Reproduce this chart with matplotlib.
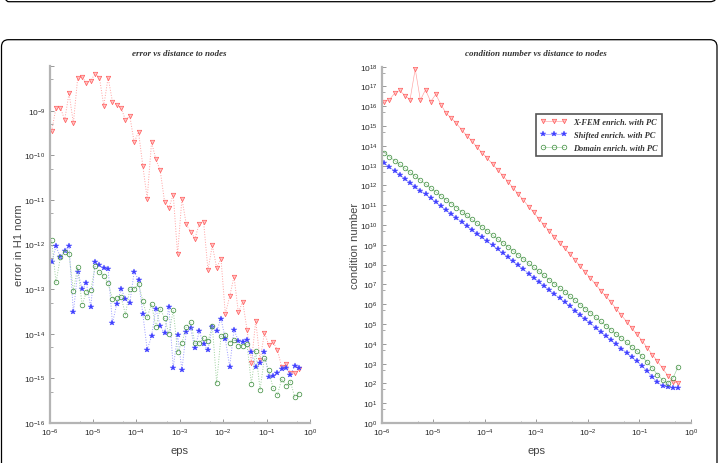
import numpy as np
import matplotlib.pyplot as plt
from matplotlib.patches import FancyBboxPatch
from matplotlib.ticker import FixedLocator, NullFormatter

plt.rcParams['font.family'] = 'Liberation Sans'
plt.rcParams['mathtext.fontset'] = 'custom'
plt.rcParams['mathtext.rm'] = 'Liberation Sans'
plt.rcParams['mathtext.default'] = 'regular'

# sample positions (log10 of eps)
eps_exp = [-5.95, -5.85, -5.75, -5.65, -5.55, -5.45, -5.35, -5.25, -5.15, -5.05,
           -4.95, -4.85, -4.75, -4.65, -4.55, -4.45, -4.35, -4.25, -4.15, -4.05,
           -3.95, -3.85, -3.75, -3.65, -3.55, -3.45, -3.35, -3.25, -3.15, -3.05,
           -2.95, -2.85, -2.75, -2.65, -2.55, -2.45, -2.35, -2.25, -2.15, -2.05,
           -1.95, -1.85, -1.75, -1.65, -1.55, -1.45, -1.35, -1.25, -1.15, -1.05,
           -0.95, -0.85, -0.75, -0.65, -0.55, -0.45, -0.35, -0.25]

# log10 of error in H1 norm
err_xfem = [-9.46, -8.93, -8.93, -9.21, -8.61, -9.28, -8.26, -8.25, -8.38, -8.33,
            -8.17, -8.26, -8.89, -8.26, -8.80, -8.87, -8.94, -9.21, -9.12, -9.71,
            -9.48, -10.24, -10.97, -9.71, -10.09, -10.34, -11.04, -11.18, -10.88, -12.22,
            -10.97, -11.55, -11.71, -11.87, -11.53, -11.50, -12.57, -12.02, -12.52, -12.32,
            -13.56, -13.16, -12.72, -13.52, -13.28, -13.91, -14.65, -13.71, -14.59, -13.98,
            -14.25, -14.18, -14.37, -14.75, -14.68, -14.89, -14.89, -14.80]
err_shift = [-12.40, -12.04, -12.28, -12.14, -12.04, -13.52, -12.61, -13.00, -12.87, -13.39,
             -12.40, -12.47, -12.52, -12.55, -13.76, -13.33, -13.00, -13.22, -13.31, -12.61,
             -12.79, -13.56, -14.36, -14.06, -13.44, -13.83, -13.99, -13.39, -14.76, -14.03,
             -14.81, -13.95, -13.88, -14.33, -13.94, -14.24, -14.36, -13.85, -13.94, -13.66,
             -14.12, -14.74, -13.91, -14.16, -14.18, -14.13, -14.42, -14.75, -14.66, -14.42,
             -14.98, -14.94, -14.88, -14.79, -14.77, -14.92, -14.72, -14.77]
err_domain = [-11.91, -12.85, -12.29, -12.16, -12.22, -13.04, -12.50, -13.35, -13.06, -13.03,
              -12.49, -12.61, -12.70, -12.87, -13.22, -13.20, -13.18, -13.57, -13.00, -13.00,
              -12.88, -13.27, -13.63, -13.33, -13.85, -13.44, -13.65, -14.01, -13.47, -14.40,
              -14.21, -13.84, -13.74, -14.21, -14.21, -14.10, -14.17, -13.82, -15.10, -14.06,
              -14.02, -14.21, -14.13, -14.27, -14.27, -14.24, -15.12, -14.39, -15.25, -14.54,
              -14.82, -15.22, -15.37, -15.01, -15.17, -15.08, -15.42, -15.34]

# log10 of condition number
cond_xfem = [16.23, 16.33, 16.65, 16.80, 16.53, 16.33, 17.88, 16.31, 16.83, 16.23,
             16.60, 16.08, 15.64, 15.40, 15.13, 14.81, 14.51, 14.24, 13.92, 13.64,
             13.37, 13.08, 12.78, 12.49, 12.19, 11.87, 11.55, 11.26, 10.92, 10.64,
             10.30, 10.00, 9.70, 9.41, 9.09, 8.82, 8.54, 8.23, 7.91, 7.61,
             7.31, 7.00, 6.68, 6.40, 6.10, 5.76, 5.45, 5.12, 4.80, 4.48,
             4.16, 3.80, 3.45, 3.12, 2.76, 2.39, 2.09, 2.01]
cond_shift = [13.13, 12.93, 12.73, 12.54, 12.34, 12.14, 11.94, 11.74, 11.55, 11.35,
              11.15, 10.95, 10.75, 10.56, 10.36, 10.16, 9.96, 9.76, 9.57, 9.37,
              9.17, 8.97, 8.77, 8.58, 8.38, 8.17, 7.97, 7.76, 7.55, 7.34,
              7.14, 6.93, 6.72, 6.51, 6.31, 6.10, 5.89, 5.68, 5.46, 5.25,
              5.04, 4.82, 4.61, 4.40, 4.18, 3.97, 3.76, 3.55, 3.33, 3.12,
              2.88, 2.63, 2.32, 2.05, 1.89, 1.83, 1.78, 1.77]
cond_domain = [13.65, 13.45, 13.25, 13.06, 12.86, 12.66, 12.46, 12.26, 12.07, 11.87,
               11.67, 11.47, 11.27, 11.08, 10.88, 10.68, 10.48, 10.28, 10.09, 9.89,
               9.69, 9.49, 9.29, 9.10, 8.90, 8.69, 8.49, 8.28, 8.07, 7.86,
               7.66, 7.45, 7.24, 7.03, 6.83, 6.62, 6.41, 6.20, 5.98, 5.77,
               5.56, 5.34, 5.13, 4.92, 4.70, 4.49, 4.28, 4.07, 3.85, 3.63,
               3.37, 3.07, 2.78, 2.44, 2.17, 2.00, 2.27, 2.84]

labels = ['X-FEM enrich. with PC', 'Shifted enrich. with PC', 'Domain enrich. with PC']

eps = 10.0 ** np.array(eps_exp)

red = dict(marker='v', ms=3.2, mfc='#ffc4c4', mec='#ff5a5a', mew=0.5, color='#ffa0a0')
blue = dict(marker='*', ms=4.2, mfc='#4040ff', mec='#4040ff', mew=0.3, color='#9a9aff')
green = dict(marker='o', ms=3.3, mfc='none', mec='#4a944a', mew=0.55, color='#9cd09c')

fig = plt.figure(figsize=(7.19, 4.64), dpi=100)

# rounded frames around the panels
fig.patches.append(FancyBboxPatch((0.015, 4.613), 7.155, 0.5,
                                  boxstyle='round,pad=0,rounding_size=0.07',
                                  transform=fig.dpi_scale_trans, fc='none',
                                  ec='black', lw=0.9, figure=fig))
fig.patches.append(FancyBboxPatch((0.015, -0.3), 7.155, 4.533,
                                  boxstyle='round,pad=0,rounding_size=0.07',
                                  transform=fig.dpi_scale_trans, fc='none',
                                  ec='black', lw=0.9, figure=fig))

ax1 = fig.add_axes([49.5 / 719, 40 / 464, 260.5 / 719, 357 / 464])
ax2 = fig.add_axes([381.7 / 719, 40 / 464, 309.3 / 719, 356.4 / 464])

ax1.plot(eps, 10.0 ** np.array(err_xfem), ls=':', lw=0.7, **red)
ax1.plot(eps, 10.0 ** np.array(err_shift), ls=':', lw=0.7, **blue)
ax1.plot(eps, 10.0 ** np.array(err_domain), ls=':', lw=0.7, **green)

l1, = ax2.plot(eps, 10.0 ** np.array(cond_xfem), ls='-', lw=0.45, **red)
l2, = ax2.plot(eps, 10.0 ** np.array(cond_shift), ls='-', lw=0.45, **blue)
l3, = ax2.plot(eps, 10.0 ** np.array(cond_domain), ls='-', lw=0.45, **green)


def style(ax, ylo, yhi, skip_top):
    ax.set_xscale('log')
    ax.set_yscale('log')
    ax.set_xlim(1e-6, 1)
    ax.set_ylim(10.0 ** ylo, 10.0 ** yhi)
    for s in ['top', 'right']:
        ax.spines[s].set_visible(False)
    for s in ['left', 'bottom']:
        ax.spines[s].set_color('#b4b4b4')
        ax.spines[s].set_linewidth(1.6)
    xt = range(-6, 1)
    ax.xaxis.set_major_locator(FixedLocator([10.0 ** e for e in xt]))
    ax.set_xticklabels(['$10^{%d}$' % e for e in xt])
    ax.xaxis.set_minor_locator(FixedLocator([5 * 10.0 ** e for e in range(-6, 0)]))
    yt = range(ylo, yhi + 1)
    ax.yaxis.set_major_locator(FixedLocator([10.0 ** e for e in yt]))
    ylab = ['$10^{%d}$' % e for e in yt]
    if skip_top:
        ylab[-1] = ''
    ax.set_yticklabels(ylab)
    ax.yaxis.set_minor_locator(FixedLocator([5 * 10.0 ** e for e in range(ylo, yhi)]))
    ax.xaxis.set_minor_formatter(NullFormatter())
    ax.yaxis.set_minor_formatter(NullFormatter())
    ax.tick_params(which='major', direction='in', length=3, width=0.6,
                   color='#888888', labelsize=6, labelcolor='#2a2a2a', pad=3)
    ax.tick_params(which='minor', direction='in', length=1.8, width=0.5,
                   color='#888888')
    ax.set_xlabel('eps', fontsize=8, color='#444444', labelpad=5)


style(ax1, -16, -8, True)
style(ax2, 0, 18, False)

tfont = dict(family='Liberation Serif', weight='bold', style='italic', size=6.5,
             color='#333333')
ax1.set_title('error vs distance to nodes', pad=8, **tfont)
ax2.set_title('condition number vs distance to nodes', pad=8, **tfont)
ax1.set_ylabel('error in H1 norm', fontsize=8, color='#444444', labelpad=0)
ax2.set_ylabel('condition number', fontsize=8, color='#444444', labelpad=0)

leg = ax2.legend([l1, l2, l3], labels, loc='upper left',
                 bbox_to_anchor=(0.499, 0.867), borderaxespad=0, numpoints=3,
                 fancybox=False, framealpha=1, handlelength=3.2,
                 labelspacing=0.6, borderpad=0.5,
                 prop=dict(family='Liberation Serif', weight='bold',
                           style='italic', size=6))
leg.get_frame().set_edgecolor('#555555')
leg.get_frame().set_linewidth(1.2)
for t in leg.get_texts():
    t.set_color('#333333')

fig.savefig('out.png', dpi=100)
